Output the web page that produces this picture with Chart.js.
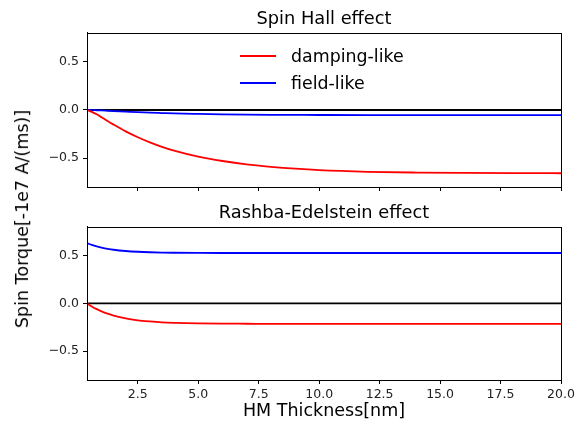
<!DOCTYPE html>
<html>
<head>
<meta charset="utf-8">
<script src="https://cdn.jsdelivr.net/npm/chart.js@4"></script>
<style>
  body { margin: 0; background: #fff; }
  #wrap { position: relative; width: 576px; height: 422px; background: #fff; font-family: 'DejaVu Sans', sans-serif; color: #000; }
  canvas { position: absolute; left: 0; }
  #top-chart { top: 0; }
  #bottom-chart { top: 200px; }
  .ylabel { position: absolute; left: 22px; top: 219px; transform: translate(-50%, -50%) rotate(-90deg); white-space: nowrap; font-size: 17.5px; }
  .legend-item { position: absolute; left: 240px; height: 20px; font-size: 17.4px; line-height: 20px; white-space: nowrap; }
  .legend-item .swatch { position: absolute; left: 0; top: 9px; width: 36px; height: 2px; }
  .legend-item .txt { position: absolute; left: 51px; top: 0; }
</style>
</head>
<body>
<div id="wrap">
  <canvas id="top-chart" width="576" height="200"></canvas>
  <canvas id="bottom-chart" width="576" height="222"></canvas>
  <div class="ylabel">Spin Torque[-1e7 A/(ms)]</div>
  <div class="legend-item" style="top:46px"><span class="swatch" style="background:#ff0000"></span><span class="txt">damping-like</span></div>
  <div class="legend-item" style="top:73px"><span class="swatch" style="background:#0000ff"></span><span class="txt">field-like</span></div>
</div>
<script>
// HM thickness (nm)
const thickness = [0.4, 0.6, 0.8, 1.0, 1.25, 1.5, 2.0, 2.5, 3.0, 3.5, 4.0, 5.0, 6.0, 7.0, 8.0, 9.0, 10.0, 12.0, 14.0, 16.0, 18.0, 20.0];

// Spin Hall effect
const sheDamping = [0, -0.02, -0.045, -0.075, -0.115, -0.152, -0.222, -0.283, -0.336, -0.383, -0.423, -0.485, -0.53, -0.565, -0.59, -0.61, -0.625, -0.642, -0.65, -0.654, -0.656, -0.657];
const sheField   = [0, -0.001, -0.003, -0.005, -0.008, -0.011, -0.017, -0.023, -0.028, -0.032, -0.036, -0.041, -0.045, -0.048, -0.05, -0.051, -0.052, -0.053, -0.053, -0.053, -0.053, -0.053];

// Rashba-Edelstein effect
const reeDamping = [0, -0.033, -0.061, -0.084, -0.108, -0.128, -0.158, -0.177, -0.189, -0.198, -0.203, -0.209, -0.212, -0.213, -0.214, -0.214, -0.214, -0.214, -0.214, -0.214, -0.214, -0.214];
const reeField   = [0.628, 0.609, 0.594, 0.582, 0.569, 0.559, 0.546, 0.538, 0.533, 0.530, 0.528, 0.526, 0.525, 0.525, 0.525, 0.525, 0.525, 0.525, 0.525, 0.525, 0.525, 0.525];

// zero reference line
const zeroLine = [0, 0];

const xRange = [0.4, 20];
const yRange = [-0.8, 0.8];
const xTicks = [2.5, 5.0, 7.5, 10.0, 12.5, 15.0, 17.5, 20.0];
const yTicks = [-0.5, 0.0, 0.5];

const FONT = "'DejaVu Sans', sans-serif";

const toPoints = (xs, ys) => ys.map((y, i) => ({ x: xs[i], y }));
const fmt = v => Number(v).toFixed(1).replace('-', '\u2212');

// box around the plot (matplotlib spines)
const framePlugin = {
    id: 'frame',
    afterDraw(chart) {
        const { ctx, chartArea: a } = chart;
        ctx.save();
        ctx.strokeStyle = '#000';
        ctx.lineWidth = 1;
        ctx.strokeRect(Math.round(a.left) + 0.5, Math.round(a.top) + 0.5, Math.round(a.right - a.left), Math.round(a.bottom - a.top));
        ctx.restore();
    }
};

function lineSet(data, color) {
    return {
        data, borderColor: color, borderWidth: 1.8, pointRadius: 0,
        cubicInterpolationMode: 'monotone', fill: false
    };
}

function makeChart(canvasId, title, titlePad, damping, field, showX, xAxisHeight) {
    return new Chart(document.getElementById(canvasId), {
        type: 'line',
        data: {
            datasets: [
                lineSet(toPoints(thickness, damping), '#ff0000'),
                lineSet(toPoints(thickness, field), '#0000ff'),
                lineSet(toPoints(xRange, zeroLine), '#000000')
            ]
        },
        options: {
            responsive: false, animation: false, devicePixelRatio: 1,
            layout: { padding: { left: 0, right: 15, top: 0, bottom: 0 } },
            plugins: {
                legend: { display: false },
                tooltip: { enabled: false },
                title: {
                    display: true, text: title, color: '#000', fullSize: false,
                    font: { family: FONT, size: 17.8, weight: 'normal' },
                    padding: titlePad
                }
            },
            scales: {
                x: {
                    type: 'linear', min: xRange[0], max: xRange[1],
                    afterBuildTicks: s => { s.ticks = xTicks.map(v => ({ value: v })); },
                    afterFit: s => { s.height = xAxisHeight; s.paddingLeft = 0; s.paddingRight = 0; },
                    grid: { drawOnChartArea: false, drawTicks: true, tickLength: 4, color: '#000' },
                    border: { display: true, color: '#000', width: 1 },
                    ticks: { display: showX, color: '#222', padding: 3, maxRotation: 0, font: { family: FONT, size: 12.5 }, callback: v => fmt(v) },
                    title: {
                        display: showX, text: 'HM Thickness[nm]', color: '#000',
                        font: { family: FONT, size: 17.5 }, padding: { top: 0, bottom: 0 }
                    }
                },
                y: {
                    min: yRange[0], max: yRange[1],
                    afterBuildTicks: s => { s.ticks = yTicks.map(v => ({ value: v })); },
                    afterFit: s => { s.width = 87; s.paddingTop = 0; s.paddingBottom = 0; },
                    grid: { drawOnChartArea: false, drawTicks: true, tickLength: 4, color: '#000' },
                    border: { display: true, color: '#000', width: 1 },
                    ticks: { color: '#222', padding: 4, font: { family: FONT, size: 12.5 }, callback: v => fmt(v) }
                }
            }
        },
        plugins: [framePlugin]
    });
}

makeChart('top-chart', 'Spin Hall effect', { top: 8.8, bottom: 2.8 }, sheDamping, sheField, false, 13);
makeChart('bottom-chart', 'Rashba-Edelstein effect', { top: 2.3, bottom: 3.0 }, reeDamping, reeField, true, 42);
</script>
</body>
</html>
